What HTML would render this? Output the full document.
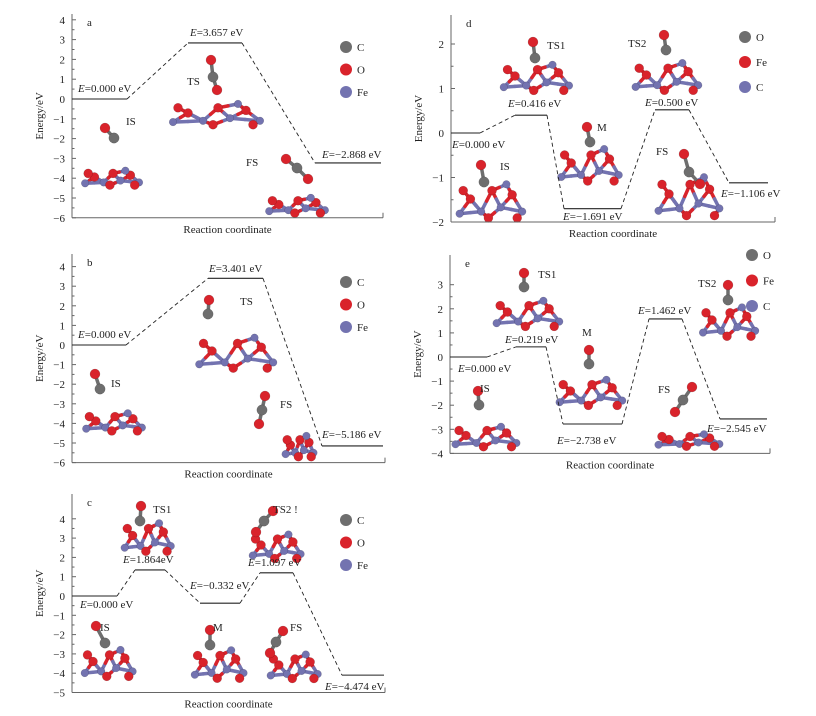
<!DOCTYPE html>
<html><head><meta charset="utf-8"><style>
html,body{margin:0;padding:0;background:#fff;}
svg{display:block;font-family:"Liberation Serif",serif;}
</style></head><body>
<svg id="fig" width="816" height="716" viewBox="0 0 816 716"></svg>
<script>
// ---- data (drawn level energies, eV) ----
const aTicks=[4,3,2,1,0,-1,-2,-3,-4,-5,-6];
const aLevels=[0,2.83,-3.23];
const aLabels=["0.000 eV","3.657 eV","\u22122.868 eV"];
const bTicks=[4,3,2,1,0,-1,-2,-3,-4,-5,-6];
const bLevels=[0,3.4,-5.15];
const bLabels=["0.000 eV","3.401 eV","\u22125.186 eV"];
const cTicks=[4,3,2,1,0,-1,-2,-3,-4,-5];
const cLevels=[0,1.35,-0.37,1.2,-4.1];
const cLabels=["0.000 eV","1.864eV","\u22120.332 eV","1.097 eV","\u22124.474 eV"];
const dTicks=[2,1,0,-1,-2];
const dLevels=[0,0.4,-1.7,0.52,-1.12];
const dLabels=["0.000 eV","0.416 eV","\u22121.691 eV","0.500 eV","\u22121.106 eV"];
const eTicks=[3,2,1,0,-1,-2,-3,-4];
const eLevels=[0,0.42,-2.78,1.58,-2.57];
const eLabels=["0.000 eV","0.219 eV","\u22122.738 eV","1.462 eV","\u22122.545 eV"];
const legendABC=["C","O","Fe"];
const legendDE=["O","Fe","C"];

const NS="http://www.w3.org/2000/svg";
const svg=document.getElementById('fig');
const RED="#d9232b",BLUE="#7373b0",GRAY="#6e6e6e";
function mk(tag,attrs,parent){const e=document.createElementNS(NS,tag);for(const k in attrs)e.setAttribute(k,attrs[k]);(parent||svg).appendChild(e);return e;}
function txt(x,y,s,size,parent,anchor){const t=mk('text',{x:x,y:y,'font-size':size||11,'text-anchor':anchor||'start',fill:'#222'},parent);t.textContent=s;return t;}

function ball(g,x,y,r,c){
  const b=mk('circle',{cx:x,cy:y,r:r,fill:c,stroke:'rgba(0,0,0,0.25)','stroke-width':0.5},g);
  
  
}
function stick(g,x1,y1,x2,y2,c){mk('line',{x1:x1,y1:y1,x2:x2,y2:y2,stroke:c,'stroke-width':3.5,'stroke-linecap':'round'},g);}
function slab(x,y,w,h){
  const g=mk('g',{});
  
  
  const P=[[0.05,0.85,BLUE],[0.2,0.5,RED],[0.35,0.8,BLUE],[0.5,0.3,RED],[0.62,0.7,BLUE],[0.78,0.4,RED],[0.92,0.8,BLUE],[0.1,0.3,RED],[0.45,0.95,RED],[0.85,0.95,RED],[0.7,0.15,BLUE]];
  const pts=P.map(p=>[x+p[0]*w,y+p[1]*h,p[2]]);
  const E=[[0,1],[1,2],[2,3],[3,4],[4,5],[5,6],[7,2],[2,8],[4,8],[6,9],[10,5],[10,3],[0,2],[4,6]];
  E.forEach(e=>{const a=pts[e[0]],b=pts[e[1]];stick(g,a[0],a[1],(a[0]+b[0])/2,(a[1]+b[1])/2,a[2]);stick(g,(a[0]+b[0])/2,(a[1]+b[1])/2,b[0],b[1],b[2]);});
  pts.forEach(p=>ball(g,p[0],p[1],p[2]===RED?4.5:3.8,p[2]));
}
function co(ox,oy,cx,cy,o2){
  const g=mk('g',{});
  
  
  stick(g,ox,oy,cx,cy,GRAY);
  if(o2){stick(g,cx,cy,o2[0],o2[1],GRAY);ball(g,o2[0],o2[1],5,RED);}
  ball(g,ox,oy,5,RED);ball(g,cx,cy,5.2,GRAY);
}

function panel(cfg){
  const g=mk('g',{});
  
  
  const Y=v=>cfg.y0-v*cfg.unit;
  const bottom=Y(cfg.ticks[cfg.ticks.length-1]);
  mk('line',{x1:cfg.ax,y1:cfg.top,x2:cfg.ax,y2:bottom,stroke:'#666','stroke-width':1},g);
  mk('line',{x1:cfg.ax,y1:bottom,x2:cfg.right,y2:bottom,stroke:'#666','stroke-width':1},g);
  mk('line',{x1:cfg.right,y1:bottom,x2:cfg.right,y2:bottom-5,stroke:'#666','stroke-width':1},g);
  cfg.ticks.forEach((t,i)=>{
    const y=Y(t);
    mk('line',{x1:cfg.ax,y1:y,x2:cfg.ax+4,y2:y,stroke:'#666'},g);
    if(i<cfg.ticks.length-1) mk('line',{x1:cfg.ax,y1:Y(t-0.5),x2:cfg.ax+2.5,y2:Y(t-0.5),stroke:'#666'},g);
    const tl=txt(cfg.ax-7,y+4,(t<0?'\u2212':'')+Math.abs(t),11,g,'end');
    
    
  });
  const yt=txt(0,0,'Energy/eV',11,g,'middle');
  yt.setAttribute('transform','translate('+(cfg.ax-29)+','+((cfg.top+bottom)/2)+') rotate(-90)');
  
  
  const xt=txt((cfg.ax+cfg.right)/2,bottom+15,'Reaction coordinate',11,g,'middle');
  
  
  const pl=txt(cfg.ax+15,cfg.top+12,cfg.id,11,g);
  
  
  cfg.levels.forEach((v,i)=>{
    const xs=cfg.xs[i],y=Y(v);
    const l=mk('line',{x1:xs[0],y1:y,x2:xs[1],y2:y,stroke:'#222','stroke-width':1.1},g);
    
    
    if(i>0){const px=cfg.xs[i-1][1],py=Y(cfg.levels[i-1]);
      const d=mk('line',{x1:px,y1:py,x2:xs[0],y2:y,stroke:'#222','stroke-width':0.9,'stroke-dasharray':'4,3'},g);
      
      }
    const lp=cfg.lp[i];
    const t=mk('text',{x:lp[0],y:lp[1],'font-size':11,fill:'#222'},g);
    const em=mk('tspan',{'font-style':'italic'},t);em.textContent='E';
    const rest=mk('tspan',{},t);rest.textContent='='+cfg.labels[i];
    
    
  });
  cfg.legend.forEach((s,i)=>{
    const cy=cfg.leg[1]+i*cfg.legStep;
    const col=[GRAY,RED,BLUE][i];
    const c=mk('circle',{cx:cfg.leg[0],cy:cy,r:6,fill:col},g);
    
    
    const t=txt(cfg.leg[0]+11,cy+4,s,11,g);
    
    
  });
  cfg.states.forEach(s=>{const t=txt(s[1],s[2],s[0],11,g);});
}

slab(82,168,62,18);co(105,128,114,138);
slab(168,100,100,26);co(211,60,213,77,[217,90]);
slab(266,195,64,19);co(286,159,297,168,[308,179]);
slab(83,410,64,22);co(95,374,100,389);
slab(195,332,85,38);co(209,300,208,314);
slab(284,432,32,26);co(265,396,262,410,[259,424]);
slab(122,518,53,35);co(141,506,140,521);
slab(250,530,55,30);co(273,511,264,521,[256,532]);
slab(82,645,55,33);co(96,626,105,643);
slab(192,645,56,35);co(210,630,210,645);
slab(268,650,54,30);co(283,631,276,642,[270,653]);
slab(500,60,75,32);co(533,42,535,58);
slab(632,58,72,34);co(664,35,666,50);
slab(558,143,66,40);co(587,127,590,142);
slab(456,178,72,42);co(481,165,484,182);
slab(655,170,70,48);co(684,154,689,172,[700,184]);
slab(493,296,72,32);co(524,273,524,287);
slab(700,302,60,36);co(728,285,728,300);
slab(556,375,72,32);co(589,350,589,364);
slab(452,423,70,25);co(478,391,479,405);
slab(655,432,70,15);co(692,387,683,400,[675,412]);

panel({id:'a',ax:72,right:383,top:14,y0:99,unit:19.8,ticks:aTicks,levels:aLevels,labels:aLabels,
  xs:[[72,127],[188,242],[315,381]],lp:[[78,92],[190,36],[322,158]],legend:legendABC,leg:[346,47],legStep:22.5,
  states:[["IS",126,125],["TS",187,85],["FS",246,166]]});
panel({id:'b',ax:72,right:385,top:254,y0:345,unit:19.6,ticks:bTicks,levels:bLevels,labels:bLabels,
  xs:[[72,126],[208,263],[322,383]],lp:[[78,338],[209,272],[322,438]],legend:legendABC,leg:[346,282],legStep:22.5,
  states:[["IS",111,387],["TS",240,305],["FS",280,408]]});
panel({id:'c',ax:72,right:385,top:494,y0:596,unit:19.3,ticks:cTicks,levels:cLevels,labels:cLabels,
  xs:[[72,117],[135,165],[200,240],[260,293],[342,384]],lp:[[80,608],[123,563],[190,589],[248,566],[325,690]],legend:legendABC,leg:[346,520],legStep:22.5,
  states:[["TS1",153,513],["TS2 !",273,513],["IS",100,631],["M",213,631],["FS",290,631]]});
panel({id:'d',ax:451,right:775,top:15,y0:133,unit:44.5,ticks:dTicks,levels:dLevels,labels:dLabels,
  xs:[[451,480],[515,547],[564,621],[655,689],[729,768]],lp:[[452,148],[508,107],[563,220],[645,106],[721,197]],legend:legendDE,leg:[745,37],legStep:25,
  states:[["TS1",547,49],["TS2",628,47],["M",597,131],["IS",500,170],["FS",656,155]]});
panel({id:'e',ax:450,right:770,top:255,y0:357,unit:24.1,ticks:eTicks,levels:eLevels,labels:eLabels,
  xs:[[450,487],[516,546],[563,622],[649,682],[720,767]],lp:[[458,372],[505,343],[557,444],[638,314],[707,432]],legend:legendDE,leg:[752,255],legStep:25.5,
  states:[["TS1",538,278],["TS2",698,287],["M",582,336],["IS",480,392],["FS",658,393]]});
</script>
</body></html>
